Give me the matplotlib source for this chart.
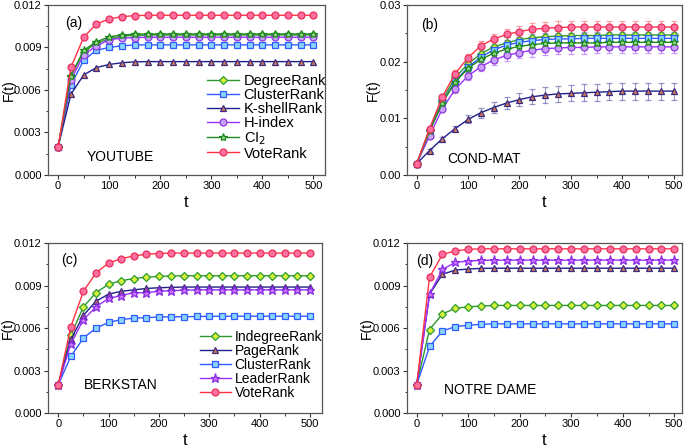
import matplotlib
matplotlib.use("Agg")
import matplotlib.pyplot as plt
from matplotlib.ticker import MultipleLocator, FormatStrFormatter
from matplotlib.colors import to_rgba

plt.rcParams['font.family'] = ['Liberation Sans', 'DejaVu Sans']

t = [0, 25, 50, 75, 100, 125, 150, 175, 200, 225, 250, 275, 300, 325, 350, 375, 400, 425, 450, 475, 500]

# ---------------- panel (a) YOUTUBE ----------------
deg_a = [0.0020, 0.0070, 0.0087, 0.0093, 0.0096, 0.0098, 0.00985, 0.00987, 0.00988, 0.00988, 0.00988,
         0.00988, 0.00988, 0.00988, 0.00988, 0.00988, 0.00988, 0.00988, 0.00988, 0.00988, 0.00988]
clu_a = [0.0020, 0.00635, 0.0081, 0.0088, 0.0090, 0.00912, 0.00917, 0.00918, 0.00918, 0.00918, 0.00918,
         0.00918, 0.00918, 0.00918, 0.00918, 0.00918, 0.00918, 0.00918, 0.00918, 0.00918, 0.00918]
ks_a = [0.0020, 0.0057, 0.00706, 0.00758, 0.0078, 0.00792, 0.00798, 0.0080, 0.0080, 0.0080, 0.0080,
        0.0080, 0.0080, 0.0080, 0.0080, 0.0080, 0.0080, 0.0080, 0.0080, 0.0080, 0.0080]
h_a = [0.0020, 0.0067, 0.0085, 0.0091, 0.00955, 0.00965, 0.0097, 0.00972, 0.00972, 0.00972, 0.00972,
       0.00972, 0.00972, 0.00972, 0.00972, 0.00972, 0.00972, 0.00972, 0.00972, 0.00972, 0.00972]
ci_a = [0.0020, 0.0070, 0.0088, 0.0094, 0.00975, 0.00988, 0.00993, 0.00995, 0.00995, 0.00995, 0.00995,
        0.00995, 0.00995, 0.00995, 0.00995, 0.00995, 0.00995, 0.00995, 0.00995, 0.00995, 0.00995]
vote_a = [0.0020, 0.0076, 0.00972, 0.01066, 0.0110, 0.01118, 0.01124, 0.01127, 0.01127, 0.01127, 0.01127,
          0.01127, 0.01127, 0.01127, 0.01127, 0.01127, 0.01127, 0.01127, 0.01127, 0.01127, 0.01127]

# ---------------- panel (b) COND-MAT ----------------
vote_b = [0.0020, 0.0082, 0.0138, 0.0179, 0.0207, 0.0228, 0.0240, 0.0248, 0.0253, 0.0257, 0.0259,
          0.0260, 0.0261, 0.0261, 0.0261, 0.0261, 0.0261, 0.0261, 0.0261, 0.0261, 0.0261]
deg_b = [0.0020, 0.0080, 0.0133, 0.0172, 0.0196, 0.0214, 0.0226, 0.0233, 0.0239, 0.0242, 0.0244,
         0.0245, 0.0246, 0.0246, 0.0246, 0.0247, 0.0247, 0.0247, 0.0247, 0.0247, 0.0247]
clu_b = [0.0020, 0.0078, 0.0128, 0.0166, 0.0190, 0.0208, 0.0221, 0.0229, 0.0234, 0.0237, 0.0239,
         0.0240, 0.0240, 0.0241, 0.0241, 0.0241, 0.0241, 0.0241, 0.0241, 0.0241, 0.0241]
ci_b = [0.0020, 0.0077, 0.0127, 0.0164, 0.0188, 0.0204, 0.0215, 0.0222, 0.0227, 0.0230, 0.0232,
        0.0233, 0.0233, 0.0233, 0.0233, 0.0234, 0.0234, 0.0234, 0.0234, 0.0234, 0.0234]
h_b = [0.0020, 0.0069, 0.0117, 0.0151, 0.0175, 0.0191, 0.0203, 0.0211, 0.0216, 0.0220, 0.0223,
       0.0224, 0.0225, 0.0225, 0.0226, 0.0226, 0.0226, 0.0226, 0.0226, 0.0226, 0.0226]
ks_b = [0.0020, 0.0043, 0.0064, 0.0082, 0.0098, 0.0110, 0.0119, 0.0127, 0.0133, 0.0138, 0.0141,
        0.0143, 0.0144, 0.0145, 0.0146, 0.0147, 0.0148, 0.0148, 0.0148, 0.0148, 0.0148]
err_b = [0.0, 0.0002, 0.0004, 0.0006, 0.0007, 0.0008, 0.0009, 0.0010, 0.0010, 0.0011, 0.0011,
         0.0011, 0.0011, 0.0011, 0.0011, 0.0011, 0.0011, 0.0011, 0.0011, 0.0011, 0.0011]
err_ks_b = [0.0, 0.0002, 0.0003, 0.0005, 0.0007, 0.0009, 0.0010, 0.0011, 0.0012, 0.0013, 0.0014,
            0.0014, 0.0014, 0.0015, 0.0015, 0.0015, 0.0015, 0.0015, 0.0015, 0.0015, 0.0015]

# ---------------- panel (c) BERKSTAN ----------------
ind_c = [0.0020, 0.0055, 0.0075, 0.0085, 0.0091, 0.00935, 0.0095, 0.0096, 0.00965, 0.00968, 0.0097,
         0.0097, 0.0097, 0.0097, 0.0097, 0.0097, 0.0097, 0.0097, 0.0097, 0.0097, 0.0097]
pr_c = [0.0020, 0.0052, 0.0069, 0.0079, 0.0084, 0.0086, 0.0087, 0.0088, 0.00885, 0.00888, 0.0089,
        0.0089, 0.0089, 0.0089, 0.0089, 0.0089, 0.0089, 0.0089, 0.0089, 0.0089, 0.0089]
clu_c = [0.0020, 0.0040, 0.0053, 0.0060, 0.0064, 0.0066, 0.0067, 0.00674, 0.00678, 0.0068, 0.0068,
         0.00682, 0.00683, 0.00684, 0.00684, 0.00684, 0.00684, 0.00684, 0.00684, 0.00684, 0.00684]
lr_c = [0.0020, 0.0049, 0.0066, 0.0075, 0.0081, 0.0083, 0.0085, 0.0085, 0.0086, 0.00865, 0.00867,
        0.0087, 0.0087, 0.0087, 0.0087, 0.0087, 0.0087, 0.0087, 0.0087, 0.0087, 0.0087]
vote_c = [0.0020, 0.0061, 0.0086, 0.0099, 0.0106, 0.0109, 0.0111, 0.01122, 0.01127, 0.0113, 0.0113,
          0.0113, 0.0113, 0.0113, 0.0113, 0.0113, 0.0113, 0.0113, 0.0113, 0.0113, 0.0113]

# ---------------- panel (d) NOTRE DAME ----------------
ind_d = [0.0020, 0.0059, 0.0070, 0.0074, 0.0075, 0.00756, 0.0076, 0.0076, 0.0076, 0.0076, 0.0076,
         0.0076, 0.0076, 0.0076, 0.0076, 0.0076, 0.0076, 0.0076, 0.0076, 0.0076, 0.0076]
pr_d = [0.0020, 0.0084, 0.0098, 0.0101, 0.01017, 0.01022, 0.01023, 0.01023, 0.01023, 0.01023, 0.01023,
        0.01023, 0.01023, 0.01023, 0.01023, 0.01023, 0.01023, 0.01023, 0.01023, 0.01023, 0.01023]
clu_d = [0.0020, 0.0047, 0.0058, 0.0061, 0.0062, 0.00627, 0.0063, 0.0063, 0.0063, 0.0063, 0.0063,
         0.0063, 0.0063, 0.0063, 0.0063, 0.0063, 0.0063, 0.0063, 0.0063, 0.0063, 0.0063]
lr_d = [0.0020, 0.0084, 0.01015, 0.01064, 0.01074, 0.01078, 0.0108, 0.0108, 0.0108, 0.0108, 0.0108,
        0.0108, 0.0108, 0.0108, 0.0108, 0.0108, 0.0108, 0.0108, 0.0108, 0.0108, 0.0108]
vote_d = [0.0020, 0.0096, 0.0112, 0.01146, 0.01156, 0.0116, 0.0116, 0.0116, 0.0116, 0.0116, 0.0116,
          0.0116, 0.0116, 0.0116, 0.0116, 0.0116, 0.0116, 0.0116, 0.0116, 0.0116, 0.0116]

# styles
ST = {
    'deg':  dict(color='#2e9a2e', marker='D', mfc='#d4f03c', mec='#2e9a2e', ms=4.5),
    'clu':  dict(color='#2f5bff', marker='s', mfc='#8ad4ff', mec='#2f5bff', ms=4.5),
    'ks':   dict(color='#1f1f8a', marker='^', mfc='#d07a55', mec='#3a2a80', ms=5),
    'h':    dict(color='#9b30ff', marker='o', mfc='#c9a0ff', mec='#8a3ad8', ms=5),
    'ci':   dict(color='#208a20', marker='*', mfc='#9ad88a', mec='#208a20', ms=6),
    'vote': dict(color='#ff3344', marker='o', mfc='#ff6fa0', mec='#e8305a', ms=5),
    'lr':   dict(color='#9b30ff', marker='*', mfc='#cc77ff', mec='#8a2be2', ms=6.5),
}

fig = plt.figure(figsize=(6.85, 4.47), dpi=100)
ax_a = fig.add_axes([0.070, 0.6085, 0.404, 0.3805])
ax_b = fig.add_axes([0.594, 0.6085, 0.4016, 0.3805])
ax_c = fig.add_axes([0.070, 0.076, 0.400, 0.380])
ax_d = fig.add_axes([0.594, 0.076, 0.4016, 0.380])


def plot(ax, y, key, label, err=None):
    s = ST[key]
    if err is None:
        ax.plot(t, y, color=s['color'], lw=1.0, marker=s['marker'], ms=s['ms'],
                mfc=s['mfc'], mec=s['mec'], mew=0.9, label=label)
    else:
        ax.errorbar(t, y, yerr=err, color=s['color'], lw=1.0, marker=s['marker'], ms=s['ms'],
                    mfc=s['mfc'], mec=s['mec'], mew=0.9, label=label,
                    ecolor=to_rgba(s['color'], 0.45), elinewidth=0.8, capsize=2.2, capthick=0.8)


def style(ax, ymax, ystep, yfmt, xlim, tag, name, tagpos, namepos, ylab_x, xlab_y):
    ax.set_xlim(*xlim)
    ax.set_ylim(0, ymax)
    ax.xaxis.set_major_locator(MultipleLocator(100))
    ax.xaxis.set_minor_locator(MultipleLocator(50))
    ax.yaxis.set_major_locator(MultipleLocator(ystep))
    ax.yaxis.set_minor_locator(MultipleLocator(ystep / 2))
    ax.yaxis.set_major_formatter(FormatStrFormatter(yfmt))
    ax.tick_params(which='major', direction='out', length=3, width=0.8, labelsize=8,
                   top=False, right=False, colors='#333333', labelcolor='black', pad=1.5)
    ax.tick_params(which='minor', direction='out', length=1.8, width=0.7,
                   top=False, right=False, colors='#333333')
    for sp in ax.spines.values():
        sp.set_color('#555555')
        sp.set_linewidth(0.9)
    ax.set_xlabel('t', fontsize=12)
    ax.set_ylabel('F(t)', fontsize=10)
    ax.yaxis.set_label_coords(ylab_x, 0.5)
    ax.xaxis.set_label_coords(0.5, xlab_y)
    ax.text(tagpos[0], tagpos[1], tag, transform=ax.transAxes, fontsize=10, va='center', ha='left')
    ax.text(namepos[0], namepos[1], name, transform=ax.transAxes, fontsize=10, va='center', ha='left')


# (a)
plot(ax_a, deg_a, 'deg', 'DegreeRank')
plot(ax_a, clu_a, 'clu', 'ClusterRank')
plot(ax_a, ks_a, 'ks', 'K-shellRank')
plot(ax_a, h_a, 'h', 'H-index')
plot(ax_a, ci_a, 'ci', 'CI$_2$')
plot(ax_a, vote_a, 'vote', 'VoteRank')
style(ax_a, 0.012, 0.003, '%.3f', (-20, 522), '(a)', 'YOUTUBE', (0.062, 0.894), (0.14, 0.106),
      -0.117, -0.12)
ax_a.legend(loc='upper left', bbox_to_anchor=(0.575, 0.595), frameon=False, fontsize=10.5,
            handlelength=2.2, handletextpad=0.3, labelspacing=0.0, borderaxespad=0, borderpad=0)

# (b)
plot(ax_b, deg_b, 'deg', 'DegreeRank', err_b)
plot(ax_b, clu_b, 'clu', 'ClusterRank', err_b)
plot(ax_b, ks_b, 'ks', 'K-shellRank', err_ks_b)
plot(ax_b, h_b, 'h', 'H-index', err_b)
plot(ax_b, ci_b, 'ci', 'CI$_2$', err_b)
plot(ax_b, vote_b, 'vote', 'VoteRank', err_b)
style(ax_b, 0.03, 0.01, '%.2f', (-19, 516), '(b)', 'COND-MAT', (0.053, 0.88), (0.145, 0.094),
      -0.098, -0.12)

# (c)
plot(ax_c, ind_c, 'deg', 'IndegreeRank')
plot(ax_c, pr_c, 'ks', 'PageRank')
plot(ax_c, clu_c, 'clu', 'ClusterRank')
plot(ax_c, lr_c, 'lr', 'LeaderRank')
plot(ax_c, vote_c, 'vote', 'VoteRank')
style(ax_c, 0.012, 0.003, '%.3f', (-20.5, 524), '(c)', 'BERKSTAN', (0.047, 0.90), (0.13, 0.165),
      -0.119, -0.115)
ax_c.legend(loc='upper left', bbox_to_anchor=(0.555, 0.49), frameon=False, fontsize=10,
            handlelength=2.2, handletextpad=0.3, labelspacing=0.0, borderaxespad=0, borderpad=0)

# (d)
plot(ax_d, ind_d, 'deg', 'IndegreeRank')
plot(ax_d, pr_d, 'ks', 'PageRank')
plot(ax_d, clu_d, 'clu', 'ClusterRank')
plot(ax_d, lr_d, 'lr', 'LeaderRank')
plot(ax_d, vote_d, 'vote', 'VoteRank')
style(ax_d, 0.012, 0.003, '%.3f', (-19, 515), '(d)', 'NOTRE DAME', (0.033, 0.896), (0.135, 0.135),
      -0.12, -0.115)

fig.savefig('out.png', dpi=100)
